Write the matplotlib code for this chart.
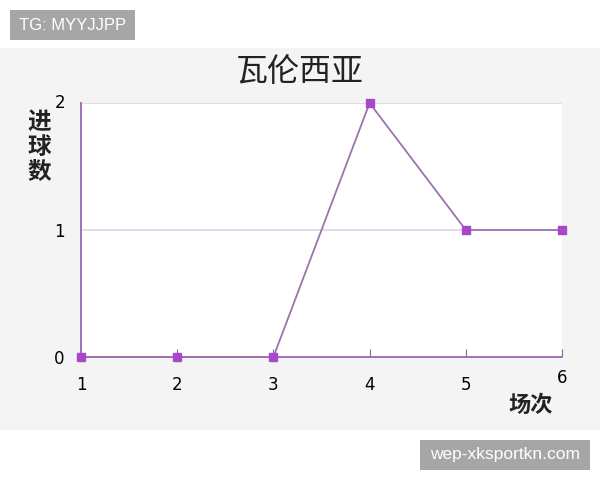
import matplotlib.pyplot as plt
from matplotlib.patches import Rectangle

plt.rcParams['font.family'] = ['Noto Sans CJK SC', 'DejaVu Sans']

# data
matches = [1, 2, 3, 4, 5, 6]
goals = [0, 0, 0, 2, 1, 1]
x_ticks = [1, 2, 3, 4, 5]
y_ticks = [0, 1]
title = '瓦伦西亚'

fig = plt.figure(figsize=(6, 4.8), dpi=100)
fig.patch.set_facecolor('white')
# grey panel behind the chart
fig.patches.append(Rectangle((0, 50/480), 1, 382/480, transform=fig.transFigure,
                             facecolor='#f4f4f4', edgecolor='none', zorder=-5))
# watermark boxes
fig.patches.append(Rectangle((10/600, 1 - 40/480), 125/600, 30/480, transform=fig.transFigure,
                             facecolor='#a6a6a6', edgecolor='none', zorder=-4))
fig.patches.append(Rectangle((420/600, 1 - 470/480), 170/600, 30/480, transform=fig.transFigure,
                             facecolor='#a6a6a6', edgecolor='none', zorder=-4))

ax = fig.add_axes([81/600, 123/480, 481/600, 254/480])
ax.set_zorder(2)
ax.set_facecolor('white')
ax.set_xlim(1, 6)
ax.set_ylim(0, 2)

for yv in [1, 2]:
    ax.axhline(yv, color='#dcd4ec', lw=1.2, zorder=1)

ax.plot(matches, goals, color='#9c74ac', lw=1.3, marker='s', ms=6,
        mfc='#a848c8', mec='#a848c8', zorder=3, clip_on=False)

for s in ['top', 'right']:
    ax.spines[s].set_visible(False)
ax.spines['left'].set_color('#a070b8')
ax.spines['bottom'].set_color('#a070b8')
ax.spines['left'].set_linewidth(1.4)
ax.spines['bottom'].set_linewidth(1.4)

ax.set_xticks(x_ticks + [6])
ax.set_xticklabels([str(v) for v in x_ticks] + [''])
ax.set_yticks(y_ticks)
ax.set_yticklabels([str(v) for v in y_ticks])
ax.tick_params(axis='x', direction='in', length=6, color='#8a6a9a', pad=14,
               labelsize=12, labelfontfamily='DejaVu Sans')
ax.tick_params(axis='y', length=0, pad=12, labelsize=12, labelfontfamily='DejaVu Sans')

# extra labels placed like the original
fig.text(60/600, 1 - 103/480, '2', fontsize=12, family='DejaVu Sans', ha='center', va='center')
fig.text(562/600, 1 - 378/480, '6', fontsize=12, family='DejaVu Sans', ha='center', va='center')
fig.text(531/600, 1 - 405/480, '场次', fontsize=16, ha='center', va='center', color='#222222',
         weight='bold')
fig.text(39/600, 1 - 147/480, '进\n球\n数', fontsize=17, ha='center', va='center',
         linespacing=1.05, color='#222222', weight='bold')
fig.text(300/600, 1 - 72/480, title, fontsize=23, ha='center', va='center', color='#222222')

# watermark text
fig.text(72.5/600, 1 - 25/480, 'TG: MYYJJPP', fontsize=12, color='white', ha='center',
         va='center', family='Liberation Sans')
fig.text(505/600, 1 - 455/480, 'wep-xksportkn.com', fontsize=12.5, color='white', ha='center',
         va='center', family='Liberation Sans')

fig.savefig('out.png', dpi=100)
